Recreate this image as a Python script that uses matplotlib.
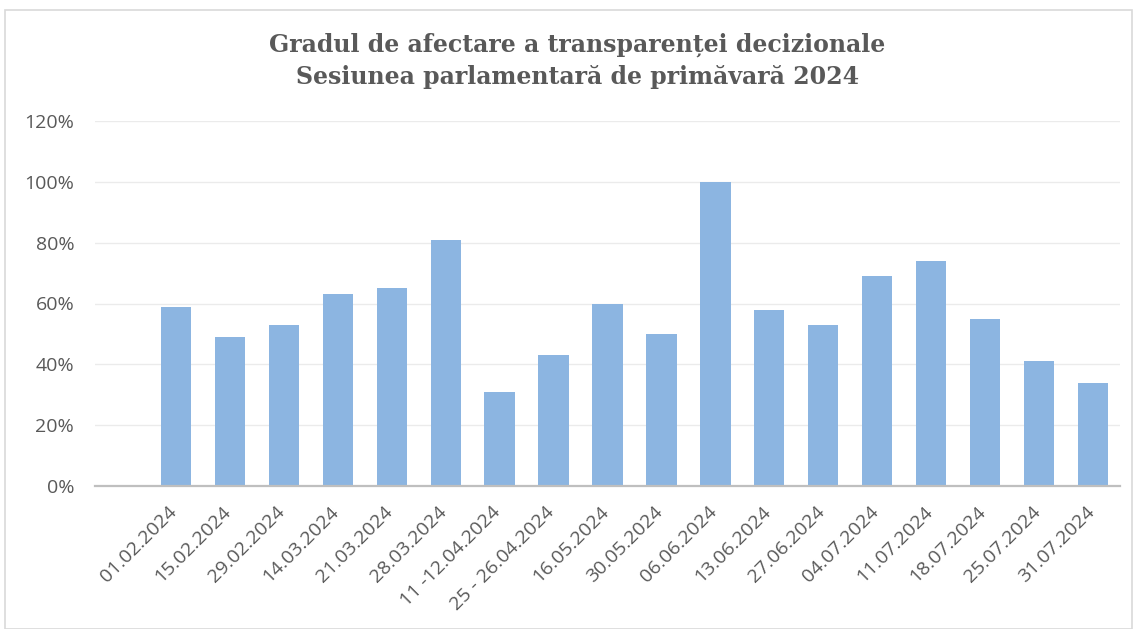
import numpy as np
import matplotlib
matplotlib.use("Agg")
import matplotlib.pyplot as plt
from matplotlib.patches import Rectangle
from matplotlib.ticker import PercentFormatter
from matplotlib.transforms import ScaledTranslation

# data (first category is empty in the original chart)
dates = ["", "01.02.2024", "15.02.2024", "29.02.2024", "14.03.2024", "21.03.2024",
         "28.03.2024", "11 -12.04.2024", "25 - 26.04.2024", "16.05.2024", "30.05.2024",
         "06.06.2024", "13.06.2024", "27.06.2024", "04.07.2024", "11.07.2024",
         "18.07.2024", "25.07.2024", "31.07.2024"]
values = [np.nan, 59, 49, 53, 63, 65, 81, 31, 43, 60, 50,
          100, 58, 53, 69, 74, 55, 41, 34]
yticks = [0, 20, 40, 60, 80, 100, 120]

title = "Gradul de afectare a transparenței decizionale\nSesiunea parlamentară de primăvară 2024"

txt_color = "#595959"
bar_color = "#8cb5e1"

fig = plt.figure(figsize=(11.34, 6.29), dpi=100)
ax = fig.add_axes([95 / 1134, 1 - 486 / 629, (1120 - 95) / 1134, (486 - 121) / 629])

# chart frame
fig.patches.append(Rectangle((5 / 1134, 0), 1127 / 1134, 1 - 10 / 629,
                             transform=fig.transFigure, fill=False,
                             edgecolor="#d9d9d9", lw=1.2))

x = np.arange(len(dates))
ax.bar(x, values, width=0.56, color=bar_color, zorder=3)

ax.set_xlim(-0.5, len(dates) - 0.5)
ax.set_ylim(0, 120)
ax.set_yticks(yticks)
ax.yaxis.set_major_formatter(PercentFormatter(decimals=0))
ax.grid(axis="y", color="#ebebeb", lw=1, zorder=0)

ax.tick_params(length=0)
ax.tick_params(axis="x", pad=12)
ax.tick_params(axis="y", pad=15)

ax.set_xticks(x)
ax.set_xticklabels(dates, rotation=45, ha="right", rotation_mode="anchor",
                   fontsize=14, color=txt_color, family="Open Sans")
shift = ScaledTranslation(-8 / 100, 0, fig.dpi_scale_trans)
for lbl in ax.get_xticklabels():
    lbl.set_transform(lbl.get_transform() + shift)
for lbl in ax.get_yticklabels():
    lbl.set_fontsize(14)
    lbl.set_color(txt_color)
    lbl.set_family("Open Sans")

for s in ["top", "right", "left"]:
    ax.spines[s].set_visible(False)
ax.spines["bottom"].set_color("#bfbfbf")
ax.spines["bottom"].set_linewidth(1.6)
ax.spines["bottom"].set_zorder(4)

fig.text(0.509, 1 - 61 / 629, title, ha="center", va="center",
         fontsize=17, fontweight="bold", color=txt_color,
         family="DejaVu Serif", linespacing=1.42)

fig.savefig("out.png", dpi=100)
